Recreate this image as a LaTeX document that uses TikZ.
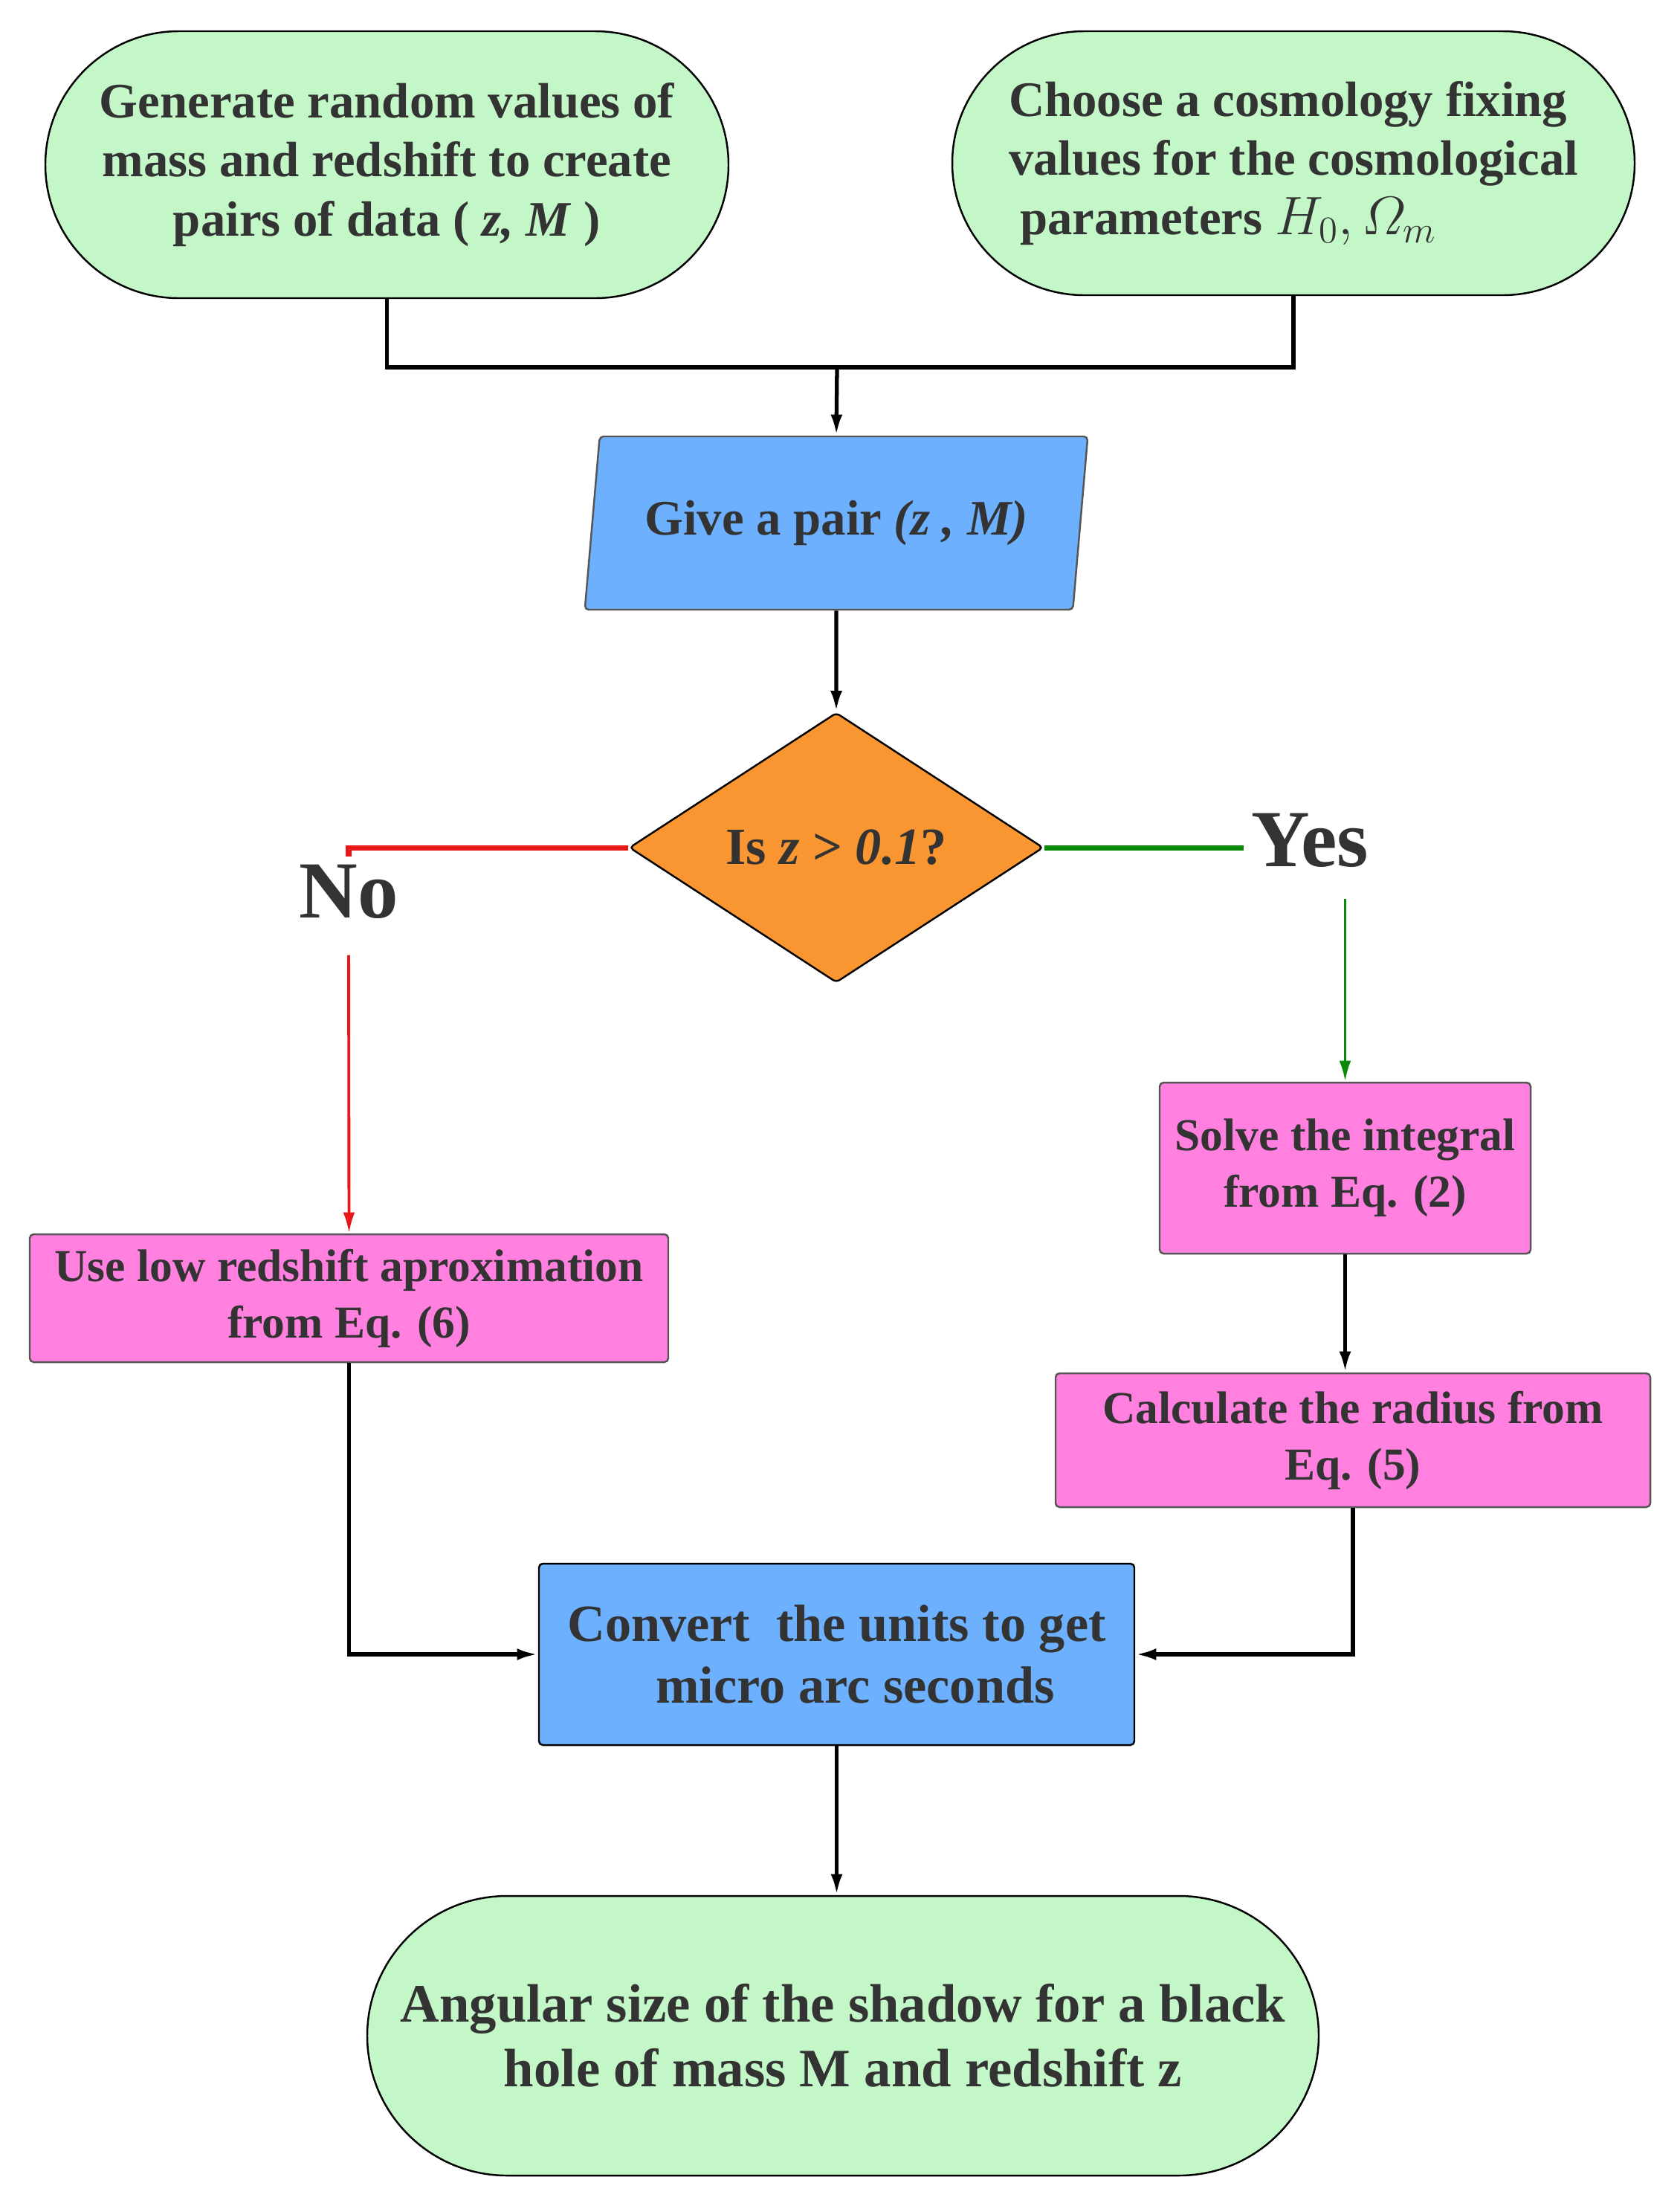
\documentclass[tikz,border=0pt]{standalone}
\usepackage{fontspec}
\setmainfont{Liberation Serif}
\usepackage{amsmath}
\usepackage{tikz}
\usetikzlibrary{shapes.geometric, shapes.misc, arrows.meta}
\definecolor{termgreen}{HTML}{C3F7C8}
\definecolor{inputblue}{HTML}{6CB0FE}
\definecolor{testorange}{HTML}{FA9632}
\definecolor{procpink}{HTML}{FF80DF}
\definecolor{inkgray}{HTML}{333333}
\definecolor{rimgray}{HTML}{555555}
\definecolor{nored}{HTML}{E81818}
\definecolor{yesgreen}{HTML}{0A8A0A}
\newcommand{\flowfont}[2]{\bfseries\fontsize{#1}{#2}\selectfont}

\begin{document}
\begin{tikzpicture}[
    term/.style={rounded rectangle, draw=black, line width=0.7pt, fill=termgreen,
      text=inkgray, align=center, inner sep=0pt},
    iobox/.style={trapezium, trapezium left angle=75, trapezium right angle=105,
      trapezium stretches=true, draw=rimgray, line width=0.7pt, fill=inputblue,
      text=inkgray, rounded corners=1.5pt, inner sep=0pt},
    testbox/.style={diamond, draw=black, line width=0.7pt, fill=testorange,
      text=inkgray, inner sep=0pt, rounded corners=1.5pt},
    procbox/.style={rectangle, draw=rimgray, line width=0.7pt, fill=procpink,
      text=inkgray, align=center, rounded corners=1.5pt, inner sep=0pt},
    convbox/.style={procbox, draw=black, fill=inputblue},
    answer/.style={text=inkgray, font=\flowfont{31}{37}, inner sep=1mm},
    flow/.style={black, line width=1.5pt, -{Latex[length=8pt,width=4.5pt]}},
    joint/.style={black, line width=1.5pt},
  ]
  \useasboundingbox (0,0) rectangle (22.6,-29.67);

  \node[term, minimum width=9.19cm, minimum height=3.59cm, font=\flowfont{19}{22.6}]
    (gen) at (5.205,-2.215)
    {Generate random values of\\mass and redshift to create\\pairs of data ( \textit{z, M} )};
  \node[term, minimum width=9.18cm, minimum height=3.55cm, font=\flowfont{19}{22.6}, align=left]
    (cosmo) at (17.40,-2.195)
    {Choose a cosmology fixing\\values for the cosmological\\\hspace*{0.15cm}parameters {\fontsize{21.5}{22.6}\selectfont$H_0,\varOmega_m$}};
  \coordinate (merge) at (11.26,-4.94);

  \node[iobox, minimum width=6.77cm, minimum height=2.33cm, font=\flowfont{19}{22.6}]
    (pair) at (11.25,-7.035) {Give a pair \textit{(z , M)}};
  \node[testbox, minimum width=5.57cm, minimum height=3.63cm, font=\flowfont{20}{24}]
    (test) at (11.25,-11.40) {Is \textit{z} > \textit{0.1}?};

  \node[answer] (nolbl) at (4.69,-11.99) {No};
  \node[answer] (yeslbl) at (17.62,-11.30) {Yes};

  \node[procbox, minimum width=8.59cm, minimum height=1.72cm, font=\flowfont{17.5}{21.6}]
    (lowz) at (4.695,-17.46) {Use low redshift aproximation\\from Eq. (6)};
  \node[procbox, minimum width=4.99cm, minimum height=2.30cm, font=\flowfont{17.5}{21.6}]
    (solve) at (18.095,-15.71) {Solve the integral\\from Eq. (2)};
  \node[procbox, minimum width=8.00cm, minimum height=1.80cm, font=\flowfont{17.5}{21.6}]
    (radius) at (18.20,-19.37) {Calculate the radius from\\Eq. (5)};
  \node[convbox, minimum width=8.01cm, minimum height=2.44cm, font=\flowfont{20}{23.7}]
    (units) at (11.255,-22.25) {Convert\ \ the units to get\\\hspace*{0.5cm}micro arc seconds};
  \node[term, minimum width=12.80cm, minimum height=3.76cm, font=\flowfont{20.7}{24.8}]
    (shadow) at (11.34,-27.38)
    {Angular size of the shadow for a black\\hole of mass M and redshift z};

  \draw[joint] (gen.south) |- (merge);
  \draw[joint] (cosmo.south) |- (merge);
  \draw[flow] (merge) -- (pair.north);
  \draw[flow] (pair.south) -- (test.north);

  \draw[nored, line width=2pt] (test.west) -| (nolbl.north);
  \draw[flow, nored, line width=1.1pt, shorten <=11pt] (nolbl.south) -- (lowz.north);
  \draw[yesgreen, line width=2pt] (test.east) -- (test.east -| yeslbl.west);
  \draw[flow, yesgreen, line width=1.1pt, shorten <=9pt] (yeslbl.south -| solve.north) -- (solve.north);

  \draw[flow] (solve.south) -- (solve.south |- radius.north);
  \draw[flow] (lowz.south) |- (units.west);
  \draw[flow] (radius.south) |- (units.east);
  \draw[flow] (units.south) -- (units.south |- shadow.north);
\end{tikzpicture}
\end{document}
